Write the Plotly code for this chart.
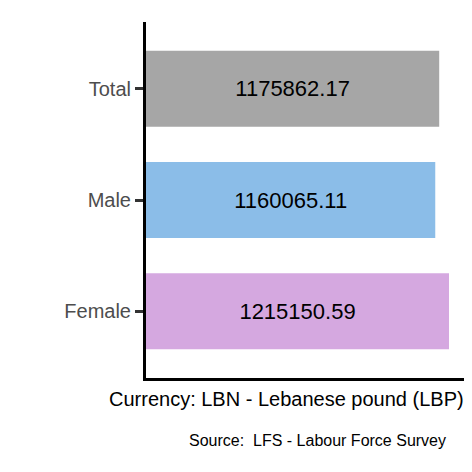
import plotly.graph_objects as go

categories = ["Female", "Male", "Total"]
values = [1215150.59, 1160065.11, 1175862.17]
colors = ["#D5A8E0", "#8BBDE8", "#A6A6A6"]
labels = ["1215150.59", "1160065.11", "1175862.17"]

fig = go.Figure()
fig.add_trace(go.Bar(
    y=categories, x=values, orientation="h", width=0.685,
    marker=dict(color=colors, line=dict(width=0)),
    text=labels, textposition="inside", insidetextanchor="middle",
    textfont=dict(family="Liberation Sans", size=22, color="black"),
    showlegend=False,
))

fig.update_layout(
    width=472, height=472,
    margin=dict(l=138, r=8, t=14, b=102),
    plot_bgcolor="white", paper_bgcolor="white",
    font=dict(family="Liberation Sans"),
    xaxis=dict(range=[0, 1307400], showgrid=False, showticklabels=False, zeroline=False,
               showline=True, linecolor="black", linewidth=3, ticks=""),
    yaxis=dict(range=[-0.6, 2.6], showgrid=False, zeroline=False,
               showline=True, linecolor="black", linewidth=3,
               ticks="outside", ticklen=8, tickwidth=3, tickcolor="#333333",
               tickfont=dict(size=20, color="#4D4D4D")),
    annotations=[
        dict(xref="paper", yref="paper", x=-0.12, y=0, xanchor="left", yanchor="top",
             yshift=-8, text="Currency: LBN - Lebanese pound (LBP)", showarrow=False,
             font=dict(size=20, color="black")),
        dict(xref="paper", yref="paper", x=0.926, y=0, xanchor="right", yanchor="top",
             yshift=-52, text="Source:  LFS - Labour Force Survey", showarrow=False,
             font=dict(size=16, color="black")),
    ],
)

fig.write_html("out.html")
